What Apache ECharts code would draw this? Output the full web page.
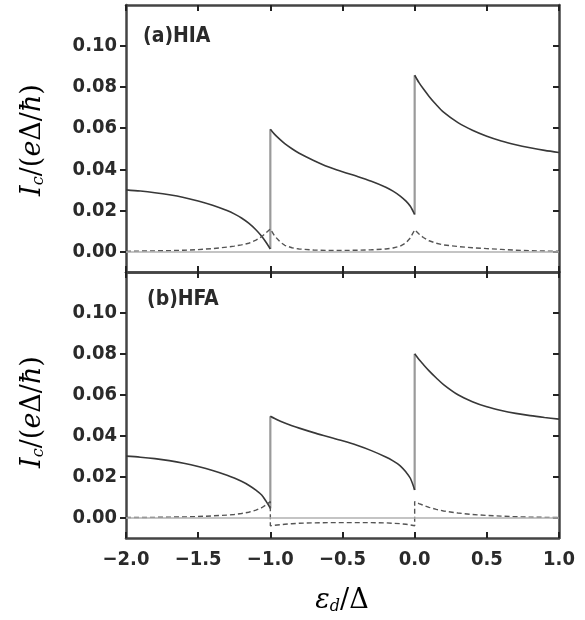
<!DOCTYPE html>
<html>
<head>
<meta charset="utf-8">
<script src="https://cdn.jsdelivr.net/npm/echarts@6/dist/echarts.min.js"></script>
<style>html,body{margin:0;padding:0;background:#fff}#c{width:585px;height:620px}</style>
</head>
<body>
<div id="c"></div>
<script>
// x grids for the three segments
var xLeft  = [-2.0,-1.9,-1.8,-1.7,-1.6,-1.5,-1.4,-1.3,-1.25,-1.2,-1.15,-1.1,-1.06,-1.03,-1.0];
var xMid   = [-1.0,-0.97,-0.93,-0.9,-0.85,-0.8,-0.7,-0.6,-0.5,-0.4,-0.3,-0.2,-0.15,-0.1,-0.06,-0.03,0.0];
var xRight = [0.0,0.03,0.06,0.1,0.15,0.2,0.3,0.4,0.5,0.6,0.7,0.8,0.9,1.0];

// (a) HIA
var aSolidL = [0.0300,0.0294,0.0286,0.0276,0.0263,0.0246,0.0225,0.0199,0.0183,0.0163,0.0138,0.0106,0.0074,0.0045,0.0012];
var aSolidM = [0.0595,0.0570,0.0543,0.0525,0.0500,0.0478,0.0443,0.0412,0.0388,0.0366,0.0342,0.0313,0.0294,0.0270,0.0245,0.0220,0.0180];
var aSolidR = [0.0858,0.0822,0.0792,0.0755,0.0714,0.0678,0.0627,0.0590,0.0561,0.0538,0.0520,0.0505,0.0492,0.0482];
var aDashL  = [0.0000,0.0002,0.0003,0.0004,0.0006,0.0009,0.0014,0.0021,0.0026,0.0032,0.0040,0.0055,0.0072,0.0090,0.0110];
var aDashM  = [0.0110,0.0075,0.0045,0.0030,0.0018,0.0012,0.0007,0.0005,0.0005,0.0006,0.0008,0.0012,0.0017,0.0026,0.0042,0.0066,0.0105];
var aDashR  = [0.0105,0.0085,0.0068,0.0052,0.0040,0.0032,0.0024,0.0018,0.0014,0.0010,0.0006,0.0004,0.0002,0.0001];

// (b) HFA
var bSolidL = [0.0300,0.0295,0.0288,0.0278,0.0265,0.0249,0.0230,0.0207,0.0193,0.0177,0.0158,0.0134,0.0110,0.0080,0.0045];
var bSolidM = [0.0495,0.0484,0.0471,0.0462,0.0449,0.0437,0.0415,0.0395,0.0375,0.0353,0.0327,0.0296,0.0277,0.0253,0.0222,0.0192,0.0135];
var bSolidR = [0.0800,0.0772,0.0748,0.0717,0.0682,0.0650,0.0600,0.0566,0.0541,0.0523,0.0509,0.0498,0.0489,0.0481];
var bDashL  = [0.0000,0.0000,0.0001,0.0002,0.0003,0.0005,0.0008,0.0012,0.0015,0.0020,0.0026,0.0036,0.0048,0.0062,0.0078];
var bDashM  = [-0.0040,-0.0038,-0.0035,-0.0033,-0.0030,-0.0028,-0.0026,-0.0025,-0.0025,-0.0025,-0.0025,-0.0026,-0.0028,-0.0030,-0.0033,-0.0036,-0.0040];
var bDashR  = [0.0078,0.0068,0.0060,0.0050,0.0040,0.0032,0.0022,0.0015,0.0010,0.0007,0.0004,0.0002,0.0001,0.0000];

var yTicks = [0.00,0.02,0.04,0.06,0.08,0.10];
var xTicks = [-2.0,-1.5,-1.0,-0.5,0.0,0.5,1.0];
var panelLabels = ['(a)HIA','(b)HFA'];

var LABEL_FONT = "'DejaVu Sans Condensed','Liberation Sans Narrow','DejaVu Sans',sans-serif";

function zip(xs, ys){ return xs.map(function(x,i){ return [x, ys[i]]; }); }

var chart = echarts.init(document.getElementById('c'), null, {renderer:'canvas'});

var grids = [
  {left:126, top:5, right:26, height:267},
  {left:126, top:272, right:26, height:266}
];

function tick(inside){
  return {show:true, inside:inside, length:6, lineStyle:{color:'#222', width:2}};
}

var xAxes = [], yAxes = [];
[0,1].forEach(function(g){
  ['bottom','top'].forEach(function(pos){
    xAxes.push({
      type:'value', gridIndex:g, position:pos, min:-2, max:1, interval:0.5,
      axisLine:{show:true, onZero:false, lineStyle:{color:'#444', width:2.5}}, splitLine:{show:false},
      axisTick:tick(true),
      axisLabel:{show:(g===1 && pos==='bottom'), margin:12, color:'#2a2a2a', fontSize:20, fontWeight:'bold',
        fontFamily:LABEL_FONT, formatter:function(v){ return (v<0?'\u2212':'') + Math.abs(v).toFixed(1); }}
    });
  });
  ['left','right'].forEach(function(pos){
    var t = tick(pos==='right'); t.customValues = yTicks;
    yAxes.push({
      type:'value', gridIndex:g, position:pos, min:-0.01, max:0.12,
      axisLine:{show:true, onZero:false, lineStyle:{color:'#444', width:2.5}}, splitLine:{show:false},
      axisTick:t,
      axisLabel:{show:(pos==='left'), customValues:yTicks, margin:9, color:'#2a2a2a', fontSize:20, fontWeight:'bold',
        fontFamily:LABEL_FONT, formatter:function(v){ return v.toFixed(2); }}
    });
  });
});

var series = [];
function addPanel(g, sL, sM, sR, dL, dM, dR){
  var xi = g*2, yi = g*2;
  // zero line
  series.push({type:'line', xAxisIndex:xi, yAxisIndex:yi, data:[], silent:true,
    markLine:{silent:true, symbol:'none', label:{show:false}, lineStyle:{color:'#b0b0b0', width:1.5, type:'solid'},
      data:[{yAxis:0}], animation:false}});
  // jumps (gray verticals)
  series.push({type:'line', xAxisIndex:xi, yAxisIndex:yi, showSymbol:false, animation:false,
    lineStyle:{color:'#9a9a9a', width:2.2}, data:zip([xLeft[xLeft.length-1], xMid[0]], [sL[sL.length-1], sM[0]])});
  series.push({type:'line', xAxisIndex:xi, yAxisIndex:yi, showSymbol:false, animation:false,
    lineStyle:{color:'#9a9a9a', width:2.2}, data:zip([xMid[xMid.length-1], xRight[0]], [sM[sM.length-1], sR[0]])});
  // solid segments
  [[xLeft,sL],[xMid,sM],[xRight,sR]].forEach(function(p){
    series.push({type:'line', xAxisIndex:xi, yAxisIndex:yi, showSymbol:false, smooth:0.3, animation:false,
      lineStyle:{color:'#383838', width:1.6}, data:zip(p[0], p[1])});
  });
  // dashed line (continuous)
  var dx = xLeft.concat(xMid, xRight), dy = dL.concat(dM, dR);
  series.push({type:'line', xAxisIndex:xi, yAxisIndex:yi, showSymbol:false, animation:false,
    lineStyle:{color:'#555', width:1.4, type:[5,3]}, data:zip(dx, dy)});
}
addPanel(0, aSolidL, aSolidM, aSolidR, aDashL, aDashM, aDashR);
addPanel(1, bSolidL, bSolidM, bSolidR, bDashL, bDashM, bDashR);

var titleRich = {
  i:{fontFamily:"'DejaVu Serif',serif", fontStyle:'italic', fontSize:27, color:'#767676'},
  s:{fontFamily:"'DejaVu Serif',serif", fontStyle:'italic', fontSize:16, color:'#767676', verticalAlign:'bottom'},
  n:{fontFamily:"'DejaVu Serif',serif", fontSize:27, color:'#767676'}
};
function yTitle(cy){
  return {type:'text', x:33, y:cy, rotation:Math.PI/2, silent:true,
    style:{text:'{i|I}{s|c}{n|/(}{i|e}{n|Δ/}{i|ħ}{n|)}', rich:titleRich, align:'center', verticalAlign:'middle'}};
}

var option = {
  backgroundColor:'#fff',
  animation:false,
  grid:grids, xAxis:xAxes, yAxis:yAxes, series:series,
  graphic:[
    {type:'text', x:143, y:37, silent:true, style:{text:panelLabels[0], fontFamily:LABEL_FONT, fontWeight:'bold', fontSize:21, fill:'#2a2a2a', verticalAlign:'middle'}},
    {type:'text', x:147, y:300, silent:true, style:{text:panelLabels[1], fontFamily:LABEL_FONT, fontWeight:'bold', fontSize:21, fill:'#2a2a2a', verticalAlign:'middle'}},
    yTitle(140), yTitle(412),
    {type:'text', x:342, y:601, silent:true, style:{
      text:'{i|ε}{s|d}{n|/Δ}', align:'center', verticalAlign:'middle', rich:titleRich}}
  ]
};
chart.setOption(option);
</script>
</body>
</html>
